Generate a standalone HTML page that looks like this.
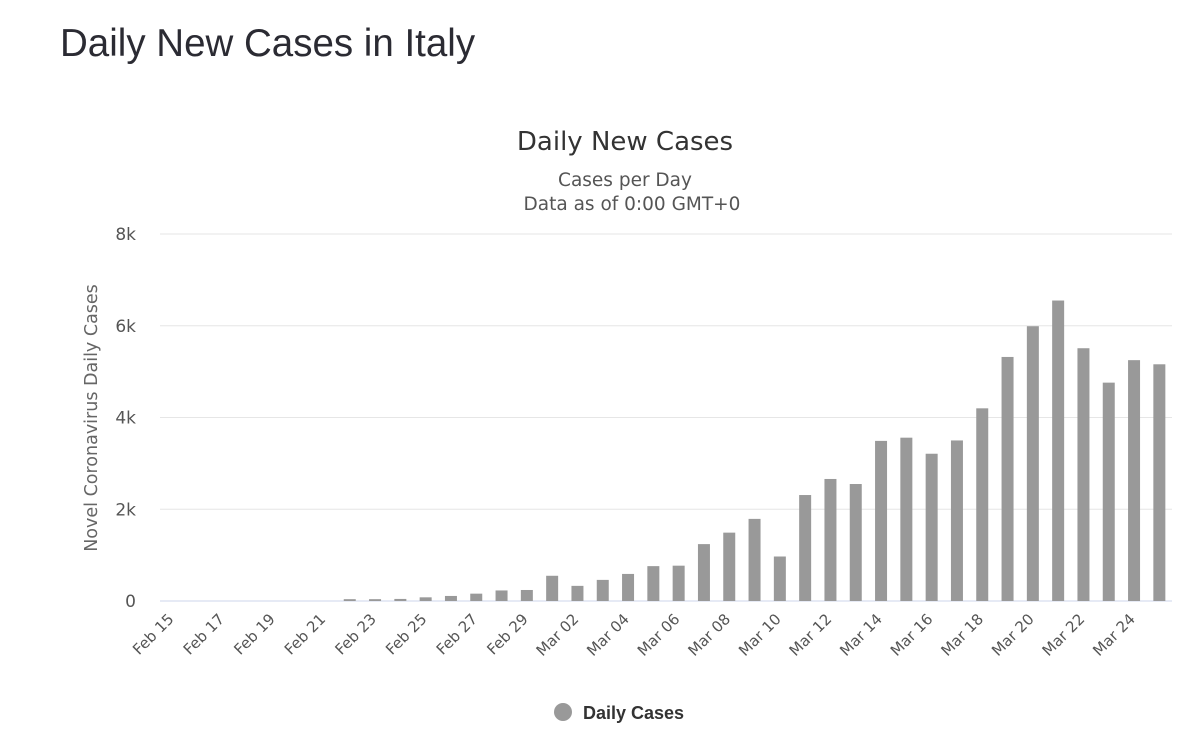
<!DOCTYPE html>
<html><head><meta charset="utf-8">
<style>
body{margin:0;background:#fff;width:1200px;height:745px;overflow:hidden;font-family:"Liberation Sans",sans-serif;}
h1{position:absolute;left:60px;top:22px;margin:0;font-weight:normal;font-size:38.5px;color:#2b2b33;}
svg{position:absolute;left:0;top:0;}
</style></head>
<body>
<h1>Daily New Cases in Italy</h1>
<svg id="chart" width="1200" height="745" font-family="DejaVu Sans, sans-serif"></svg>
<script>
const categories=["Feb 15","Feb 16","Feb 17","Feb 18","Feb 19","Feb 20","Feb 21","Feb 22","Feb 23","Feb 24","Feb 25","Feb 26","Feb 27","Feb 28","Feb 29","Mar 01","Mar 02","Mar 03","Mar 04","Mar 05","Mar 06","Mar 07","Mar 08","Mar 09","Mar 10","Mar 11","Mar 12","Mar 13","Mar 14","Mar 15","Mar 16","Mar 17","Mar 18","Mar 19","Mar 20","Mar 21","Mar 22","Mar 23","Mar 24","Mar 25"];
const dailyCases=[0,0,0,0,0,0,0,40,40,45,80,110,160,230,240,550,330,460,590,760,770,1240,1490,1790,970,2310,2660,2550,3490,3560,3210,3500,4200,5320,5990,6550,5510,4760,5250,5160];
const yTicks=[0,2000,4000,6000,8000];
const yTickLabels=["0","2k","4k","6k","8k"];
const svg=document.getElementById('chart');
const NS='http://www.w3.org/2000/svg';
const X0=160,X1=1172,Y0=601,Y1=234,YMAX=8000;
const slot=(X1-X0)/categories.length;
const xC=i=>X0+(i+0.5)*slot;
const yS=v=>Y0-(v/YMAX)*(Y0-Y1);
function mk(tag,attrs,txt){const e=document.createElementNS(NS,tag);for(const k in attrs)e.setAttribute(k,attrs[k]);if(txt!==undefined)e.textContent=txt;svg.appendChild(e);return e;}
let t;
t=mk('text',{x:625,y:150,'text-anchor':'middle','font-size':26,fill:'#333'},'Daily New Cases');


t=mk('text',{x:625,y:186,'text-anchor':'middle','font-size':18.5,fill:'#555'},'Cases per Day');


t=mk('text',{x:632,y:210,'text-anchor':'middle','font-size':18.5,fill:'#555'},'Data as of 0:00 GMT+0');


yTicks.forEach((v,i)=>{
  const y=yS(v);
  const g=mk('line',{x1:X0,x2:X1,y1:y,y2:y,stroke:i===0?'#ccd6eb':'#e6e6e6','stroke-width':1});
  
  
  const l=mk('text',{x:136,y:y+6,'text-anchor':'end','font-size':17,fill:'#555'},yTickLabels[i]);
  
  
});
t=mk('text',{x:0,y:0,'text-anchor':'middle','font-size':17.5,fill:'#666',transform:'translate(97,418) rotate(-90)'},'Novel Coronavirus Daily Cases');


const bw=12;
dailyCases.forEach((v,i)=>{
  const y=yS(v);
  const r=mk('rect',{x:xC(i)-bw/2,y:y,width:bw,height:Y0-y,fill:'#999'});
  
  
});
categories.forEach((c,i)=>{
  if(i%2!==0)return;
  const x=xC(i)+2,y=620;
  const l=mk('text',{x:x,y:y,'text-anchor':'end','font-size':15,fill:'#555',transform:`rotate(-45 ${x} ${y})`},c);
  
  
});
const lc=mk('circle',{cx:563,cy:712,r:9,fill:'#999'});


t=mk('text',{x:583,y:719,'font-size':18,'font-weight':'bold',fill:'#333','font-family':'Liberation Sans, sans-serif'},'Daily Cases');


</script>
</body></html>
